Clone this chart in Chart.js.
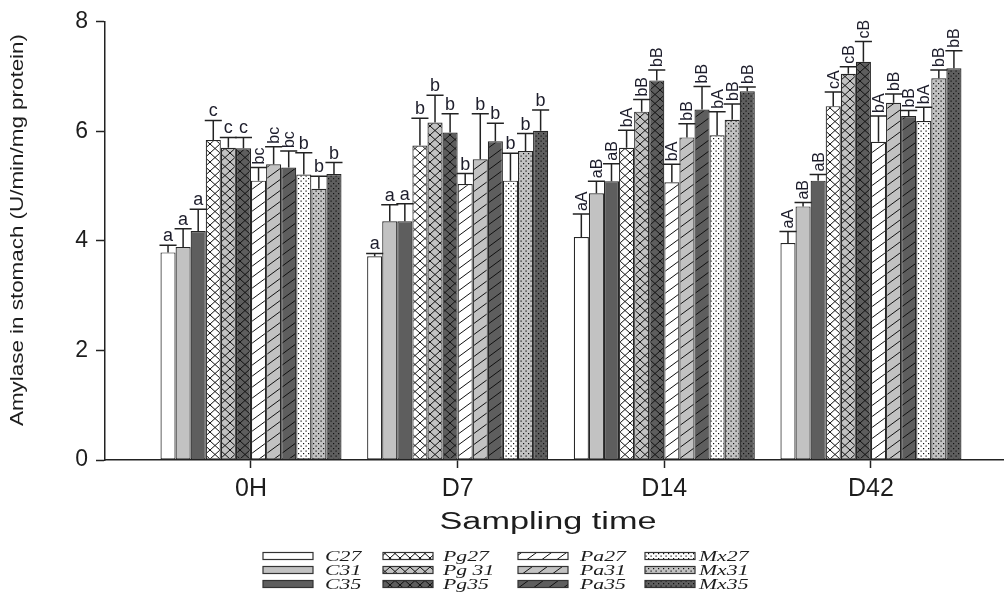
<!DOCTYPE html>
<html><head><meta charset="utf-8">
<script src="https://cdn.jsdelivr.net/npm/chart.js@4/dist/chart.umd.min.js"></script>
<style>html,body{margin:0;padding:0;background:#fff}#wrap{width:1005px;height:593px;position:relative}</style>
</head><body><div id="wrap"><canvas id="c" width="1005" height="593"></canvas></div>
<script>
// ---------- data ----------
const categories = ['0H', 'D7', 'D14', 'D42'];
const seriesNames = ['C27', 'C31', 'C35', 'Pg27', 'Pg 31', 'Pg35', 'Pa27', 'Pa31', 'Pa35', 'Mx27', 'Mx31', 'Mx35'];
const yTicks = [0, 2, 4, 6, 8];

const C27  = [3.79, 3.72, 4.07, 3.96];
const C31  = [3.89, 4.36, 4.87, 4.63];
const C35  = [4.18, 4.36, 5.09, 5.10];
const Pg27 = [5.84, 5.74, 5.70, 6.46];
const Pg31 = [5.70, 6.16, 6.36, 7.05];
const Pg35 = [5.69, 5.98, 6.93, 7.27];
const Pa27 = [5.10, 5.04, 5.07, 5.81];
const Pa31 = [5.40, 5.49, 5.89, 6.52];
const Pa35 = [5.34, 5.82, 6.40, 6.28];
const Mx27 = [5.21, 5.10, 5.93, 6.19];
const Mx31 = [4.95, 5.64, 6.21, 6.97];
const Mx35 = [5.22, 6.01, 6.73, 7.15];

const sdC27  = [0.13, 0.05, 0.42, 0.21];
const sdC31  = [0.33, 0.30, 0.22, 0.07];
const sdC35  = [0.40, 0.32, 0.32, 0.11];
const sdPg27 = [0.36, 0.50, 0.32, 0.26];
const sdPg31 = [0.19, 0.50, 0.22, 0.13];
const sdPg35 = [0.20, 0.34, 0.19, 0.37];
const sdPa27 = [0.24, 0.19, 0.33, 0.47];
const sdPa31 = [0.32, 0.83, 0.25, 0.16];
const sdPa35 = [0.30, 0.33, 0.42, 0.10];
const sdMx27 = [0.40, 0.50, 0.43, 0.25];
const sdMx31 = [0.23, 0.32, 0.29, 0.15];
const sdMx35 = [0.21, 0.38, 0.08, 0.32];

const sigC27  = ['a', 'a', 'aA', 'aA'];
const sigC31  = ['a', 'a', 'aB', 'aB'];
const sigC35  = ['a', 'a', 'aB', 'aB'];
const sigPg27 = ['c', 'b', 'bA', 'cA'];
const sigPg31 = ['c', 'b', 'bB', 'cB'];
const sigPg35 = ['c', 'b', 'bB', 'cB'];
const sigPa27 = ['bc', 'b', 'bA', 'bA'];
const sigPa31 = ['bc', 'b', 'bB', 'bB'];
const sigPa35 = ['bc', 'b', 'bB', 'bB'];
const sigMx27 = ['b', 'b', 'bA', 'bA'];
const sigMx31 = ['b', 'b', 'bB', 'bB'];
const sigMx35 = ['b', 'b', 'bB', 'bB'];

const values  = [C27, C31, C35, Pg27, Pg31, Pg35, Pa27, Pa31, Pa35, Mx27, Mx31, Mx35];
const errors  = [sdC27, sdC31, sdC35, sdPg27, sdPg31, sdPg35, sdPa27, sdPa31, sdPa35, sdMx27, sdMx31, sdMx35];
const letters = [sigC27, sigC31, sigC35, sigPg27, sigPg31, sigPg35, sigPa27, sigPa31, sigPa35, sigMx27, sigMx31, sigMx35];

// ---------- styles ----------
const bases = ['#ffffff', '#c2c2c2', '#5e5e5e'];
const kinds = ['plain', 'pg', 'pa', 'mx'];

function makePattern(base, kind) {
  if (kind === 'plain') return base;
  const t = document.createElement('canvas');
  let w, h;
  if (kind === 'pg') { w = 10; h = 9; }
  else if (kind === 'pa') { w = 15; h = 11; }
  else { w = 5; h = 5; }
  t.width = w; t.height = h;
  const g = t.getContext('2d');
  g.fillStyle = base; g.fillRect(0, 0, w, h);
  g.strokeStyle = '#111'; g.fillStyle = '#111'; g.lineWidth = 1;
  if (kind === 'pg') {
    g.beginPath();
    for (let k = -1; k <= 1; k++) {
      g.moveTo(-w, -h + k * h); g.lineTo(2 * w, 2 * h + k * h);
      g.moveTo(-w, 2 * h + k * h); g.lineTo(2 * w, -h + k * h);
    }
    g.stroke();
  } else if (kind === 'pa') {
    g.beginPath();
    for (let k = -1; k <= 1; k++) {
      g.moveTo(-w, 2 * h + k * h); g.lineTo(2 * w, -h + k * h);
    }
    g.stroke();
  } else {
    g.fillRect(0.5, 0.5, 1.2, 1.2);
    g.fillRect(3, 3, 1.2, 1.2);
  }
  return g.createPattern(t, 'repeat');
}

const fills = seriesNames.map((n, k) => makePattern(bases[k % 3], kinds[Math.floor(k / 3)]));

// ---------- plugins ----------
const errPlugin = {
  id: 'errLetters',
  afterDatasetsDraw(chart) {
    const ctx = chart.ctx, yS = chart.scales.y;
    ctx.save();
    chart.data.datasets.forEach((ds, k) => {
      const meta = chart.getDatasetMeta(k);
      meta.data.forEach((bar, i) => {
        const top = yS.getPixelForValue(ds.data[i].y + ds.errors[i]);
        const half = bar.width / 2 + 1;
        ctx.strokeStyle = '#222'; ctx.lineWidth = 1.5;
        ctx.beginPath();
        ctx.moveTo(bar.x, bar.y); ctx.lineTo(bar.x, top);
        ctx.moveTo(bar.x - half, top); ctx.lineTo(bar.x + half, top);
        ctx.stroke();
        const txt = ds.letters[i];
        ctx.fillStyle = '#1d1d2b';
        if (txt.length > 1) {
          ctx.save();
          ctx.translate(bar.x + 1, top - 3);
          ctx.rotate(-Math.PI / 2);
          ctx.font = '16px "Liberation Sans", Arial, sans-serif';
          ctx.textAlign = 'left'; ctx.textBaseline = 'middle';
          ctx.fillText(txt, 0, 0);
          ctx.restore();
        } else {
          ctx.font = '18px "Liberation Sans", Arial, sans-serif';
          ctx.textAlign = 'center'; ctx.textBaseline = 'alphabetic';
          ctx.fillText(txt, bar.x, top - 4);
        }
      });
    });
    ctx.restore();
  }
};

function stretchText(ctx, text, x, y, font, targetW, rot) {
  ctx.save();
  ctx.font = font;
  const m = ctx.measureText(text).width;
  ctx.translate(x, y);
  if (rot) ctx.rotate(rot);
  ctx.scale(targetW / m, 1);
  ctx.textAlign = 'center'; ctx.textBaseline = 'middle';
  ctx.fillText(text, 0, 0);
  ctx.restore();
}

const decoPlugin = {
  id: 'deco',
  afterDraw(chart) {
    const ctx = chart.ctx;
    ctx.save();
    ctx.fillStyle = '#1d1d1d';
    // axis titles
    stretchText(ctx, 'Amylase in stomach (U/min/mg protein)', 18, 230, '19px "Liberation Sans", Arial, sans-serif', 392, -Math.PI / 2);
    stretchText(ctx, 'Sampling time', 548, 523, '23px "Liberation Sans", Arial, sans-serif', 217, 0);
    // legend (column-major grid)
    const colSwX = [263, 383, 518, 645];
    const colTxX = [325, 443, 580, 699];
    const rowY = [556, 570, 584];
    chart.data.datasets.forEach((ds, k) => {
      const col = Math.floor(k / 3), row = k % 3;
      ctx.fillStyle = ds.backgroundColor;
      ctx.fillRect(colSwX[col], rowY[row] - 3.5, 50, 7);
      ctx.strokeStyle = '#333'; ctx.lineWidth = 1.2;
      ctx.strokeRect(colSwX[col], rowY[row] - 3.5, 50, 7);
      ctx.save();
      ctx.fillStyle = '#1d1d1d';
      ctx.font = 'italic 15px "Liberation Serif", "Times New Roman", serif';
      ctx.translate(colTxX[col], rowY[row] + 1);
      ctx.scale(1.45, 1);
      ctx.textAlign = 'left'; ctx.textBaseline = 'middle';
      ctx.fillText(ds.label, 0, 0);
      ctx.restore();
    });
    ctx.restore();
  }
};

// ---------- chart ----------
new Chart(document.getElementById('c'), {
  type: 'bar',
  data: {
    datasets: seriesNames.map((n, k) => ({
      label: n,
      data: values[k].map((v, i) => ({ x: i, y: v })),
      errors: errors[k],
      letters: letters[k],
      backgroundColor: fills[k],
      borderColor: '#262626',
      borderWidth: 1.2,
      borderSkipped: false
    }))
  },
  options: {
    responsive: false,
    animation: false,
    layout: { padding: { top: 19, right: 2, left: 0, bottom: 0 } },
    datasets: { bar: { categoryPercentage: 0.876, barPercentage: 1.0 } },
    plugins: { legend: { display: false }, tooltip: { enabled: false } },
    scales: {
      x: {
        type: 'linear',
        bounds: 'data',
        offset: false,
        min: -0.7065,
        max: 3.639,
        afterBuildTicks: s => { s.ticks = categories.map((c, i) => ({ value: i })); },
        afterFit: s => { s.height = 133; },
        ticks: {
          autoSkip: false, maxRotation: 0, padding: 6,
          color: '#1d1d1d',
          font: { family: '"Liberation Sans", Arial, sans-serif', size: 25 },
          callback: v => categories[v] ?? ''
        },
        grid: { display: true, offset: false, drawOnChartArea: false, drawTicks: true, tickLength: 8, tickColor: '#222', tickWidth: 1.5 },
        border: { display: true, color: '#222', width: 1.5 }
      },
      y: {
        min: 0, max: 8,
        afterBuildTicks: s => { s.ticks = yTicks.map(v => ({ value: v })); },
        afterFit: s => { s.width = 105; },
        ticks: {
          padding: 8, color: '#1d1d1d',
          font: { family: '"Liberation Sans", Arial, sans-serif', size: 23 }
        },
        grid: { display: true, drawOnChartArea: false, drawTicks: true, tickLength: 9, tickColor: '#222', tickWidth: 1.5 },
        border: { display: true, color: '#222', width: 1.5 }
      }
    }
  },
  plugins: [errPlugin, decoPlugin]
});
</script>
</body></html>
